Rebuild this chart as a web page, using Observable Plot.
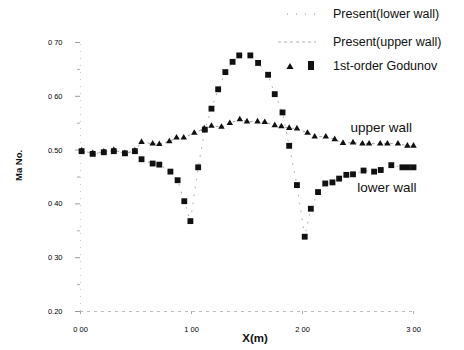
<!DOCTYPE html>
<html>
<head>
<meta charset="utf-8">
<script src="https://cdn.jsdelivr.net/npm/d3@7"></script>
<script src="https://cdn.jsdelivr.net/npm/@observablehq/plot@0.6"></script>
<style>
  html, body { margin: 0; padding: 0; background: #fff; }
  svg { display: block; font-family: "Liberation Sans", Arial, sans-serif; }
</style>
</head>
<body>
<div id="chart"></div>
<script>
// Lower wall (1st-order Godunov, squares)
const lowerX = [0.01, 0.11, 0.21, 0.30, 0.40, 0.49, 0.55, 0.65, 0.71, 0.81, 0.875, 0.935, 0.99, 1.06, 1.12, 1.18, 1.24, 1.305, 1.37, 1.43, 1.53, 1.60, 1.69, 1.75, 1.82, 1.88, 1.95, 2.02, 2.075, 2.14, 2.205, 2.27, 2.33, 2.395, 2.455, 2.55, 2.645, 2.705, 2.80, 2.90, 2.95, 3.0];
const lowerY = [0.498, 0.493, 0.496, 0.498, 0.494, 0.498, 0.483, 0.475, 0.473, 0.460, 0.444, 0.405, 0.368, 0.468, 0.538, 0.577, 0.613, 0.645, 0.664, 0.676, 0.676, 0.662, 0.640, 0.604, 0.570, 0.508, 0.435, 0.339, 0.391, 0.422, 0.438, 0.440, 0.447, 0.454, 0.455, 0.462, 0.460, 0.463, 0.472, 0.468, 0.468, 0.468];
// Upper wall (1st-order Godunov, triangles)
const upperX = [0.01, 0.11, 0.21, 0.30, 0.40, 0.49, 0.55, 0.65, 0.71, 0.80, 0.865, 0.93, 1.025, 1.115, 1.18, 1.27, 1.345, 1.435, 1.50, 1.595, 1.66, 1.75, 1.81, 1.88, 1.95, 2.045, 2.11, 2.21, 2.29, 2.365, 2.455, 2.54, 2.60, 2.70, 2.765, 2.86, 2.945, 3.0];
const upperY = [0.499, 0.494, 0.497, 0.500, 0.494, 0.499, 0.515, 0.512, 0.511, 0.516, 0.523, 0.523, 0.532, 0.540, 0.545, 0.543, 0.550, 0.557, 0.553, 0.553, 0.552, 0.546, 0.544, 0.541, 0.540, 0.532, 0.525, 0.525, 0.520, 0.513, 0.514, 0.512, 0.512, 0.512, 0.512, 0.512, 0.508, 0.508];
// Axis ticks
const xTicks = [0, 1, 2, 3];
const xTickLabels = ["0 00", "1 00", "2 00", "3 00"];
const yTicks = [0.2, 0.3, 0.4, 0.5, 0.6, 0.7];
const yTickLabels = ["0.20", "0 30", "0 40", "0.50", "0 60", "0 70"];
const yMinorTicks = [0.25, 0.35, 0.45, 0.55, 0.65];
// Annotations
const annoText = ["upper wall", "lower wall"];
const annoX = [2.71, 2.76];
const annoY = [0.541, 0.43];
// Legend
const legendLabels = ["Present(lower wall)", "Present(upper wall)", "1st-order Godunov"];

const lower = lowerX.map((x, i) => ({x, y: lowerY[i]}));
const upper = upperX.map((x, i) => ({x, y: upperY[i]}));
const annos = annoText.map((t, i) => ({t, x: annoX[i], y: annoY[i]}));

const plot = Plot.plot({
  width: 464,
  height: 350,
  marginLeft: 80,
  marginRight: 51,
  marginTop: 42,
  marginBottom: 39,
  style: {fontFamily: "Liberation Sans, Arial, sans-serif", background: "#fff", color: "#000"},
  x: {domain: [0, 3]},
  y: {domain: [0.2, 0.7]},
  marks: [
    // faint axis lines
    Plot.ruleY([0.2], {stroke: "#bbb", strokeDasharray: "3,4", strokeWidth: 1}),
    Plot.ruleX([0], {y1: 0.2, y2: 0.7, stroke: "#ccc", strokeDasharray: "1,6", strokeWidth: 1}),
    Plot.axisY(yTicks, {label: null, tickSize: 5, tickPadding: 13, fontSize: 7.5, stroke: "#999", tickFormat: d => yTickLabels[yTicks.indexOf(d)]}),
    Plot.axisY(yMinorTicks, {label: null, tickSize: 3, text: null, stroke: "#aaa"}),
    Plot.axisX(xTicks, {label: null, tickSize: 3, tickPadding: 12, fontSize: 7.5, stroke: "#aaa", tickFormat: d => xTickLabels[xTicks.indexOf(d)]}),
    // "Present" faint dotted lines
    Plot.line(lower, {x: "x", y: "y", stroke: "#999", strokeWidth: 0.8, strokeDasharray: "1,7"}),
    Plot.line(upper, {x: "x", y: "y", stroke: "#888", strokeWidth: 0.8, strokeDasharray: "2,4"}),
    // 1st-order Godunov markers
    Plot.dot(upper, {x: "x", y: "y", symbol: "triangle", r: 2.4, fill: "#111", stroke: "none"}),
    Plot.dot(lower, {x: "x", y: "y", symbol: "square", r: 3.3, fill: "#111", stroke: "none"}),
    // annotations
    Plot.text(annos, {x: "x", y: "y", text: "t", fontSize: 13.5, fill: "#111"}),
    // axis labels
    Plot.text(["X(m)"], {frameAnchor: "bottom", dx: 8, dy: 30, fontSize: 11.5, fontWeight: "bold", fill: "#111"}),
    Plot.text(["Ma No."], {frameAnchor: "left", dx: -62, dy: 4, rotate: -90, fontSize: 9.5, fontWeight: "bold", fill: "#111"})
  ]
});
document.getElementById("chart").appendChild(plot);

// Legend (top right)
const svg = d3.select(plot);
const lg = svg.append("g").attr("font-family", "Liberation Sans, Arial, sans-serif").attr("font-size", 12.5).attr("fill", "#111").attr("text-anchor", "start");
const ly = [14, 42, 66];
legendLabels.forEach((t, i) => {
  lg.append("text").attr("x", 333).attr("y", ly[i]).attr("dy", "0.35em").attr("text-anchor", "start").text(t);
});
lg.append("line").attr("x1", 287).attr("x2", 316).attr("y1", ly[0]).attr("y2", ly[0])
  .attr("stroke", "#999").attr("stroke-dasharray", "1,8").attr("stroke-width", 1);
lg.append("line").attr("x1", 278).attr("x2", 316).attr("y1", ly[1]).attr("y2", ly[1])
  .attr("stroke", "#999").attr("stroke-dasharray", "3,3").attr("stroke-width", 0.8);
lg.append("path").attr("d", d3.symbol(d3.symbolTriangle, 22)()).attr("transform", `translate(290,${ly[2] + 1})`).attr("fill", "#111");
lg.append("rect").attr("x", 308).attr("y", ly[2] - 5).attr("width", 6).attr("height", 9).attr("fill", "#111");
</script>
</body>
</html>
